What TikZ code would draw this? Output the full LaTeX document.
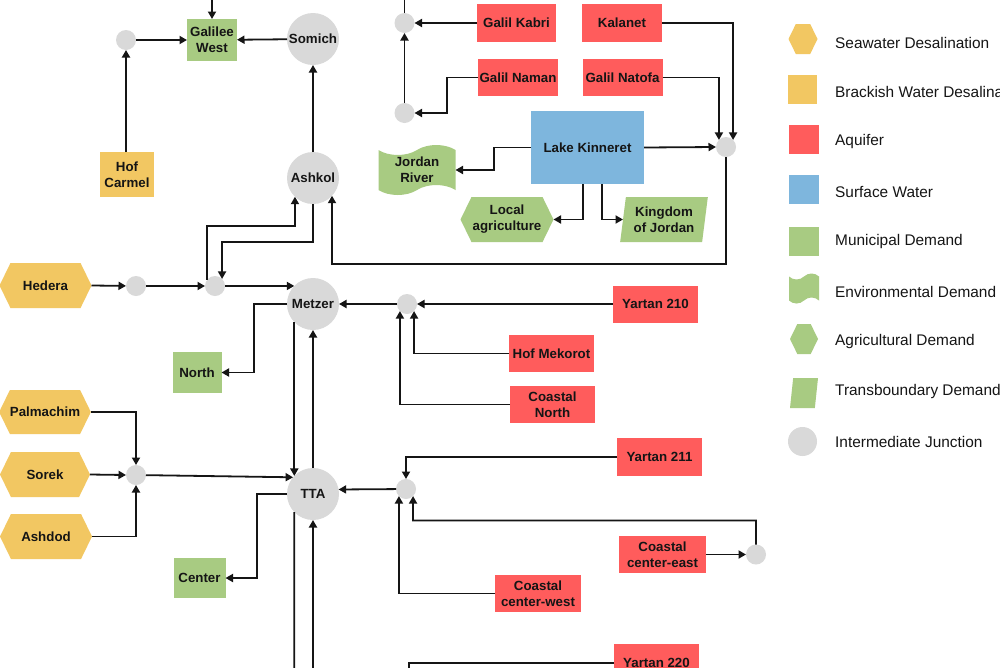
\documentclass[tikz,border=0pt]{standalone}
\usepackage{fontspec}
\setmainfont{Liberation Sans}
\usetikzlibrary{arrows.meta,shapes.geometric,shapes.symbols,calc}
\definecolor{yel}{HTML}{F2C762}
\definecolor{redc}{HTML}{FF5C5C}
\definecolor{bluec}{HTML}{7EB6DD}
\definecolor{greenc}{HTML}{A8CB82}
\definecolor{grayc}{HTML}{D9D9D9}
\definecolor{inkc}{HTML}{151515}
\tikzset{
 lbl/.style={font=\fontsize{13.3}{16}\selectfont\bfseries, align=center, inner sep=0pt, outer sep=0pt, text=inkc},
 sz/.style 2 args={minimum width=#1pt, minimum height=#2pt},
 sea/.style={lbl, signal, signal to=east and west, signal pointer angle=128, fill=yel},
 brack/.style={lbl, rectangle, fill=yel},
 aqu/.style={lbl, rectangle, fill=redc},
 surf/.style={lbl, rectangle, fill=bluec},
 muni/.style={lbl, rectangle, fill=greenc},
 env/.style={lbl, tape, tape bend height=10pt, fill=greenc},
 agri/.style={lbl, signal, signal to=east and west, signal pointer angle=128, fill=greenc},
 trans/.style={lbl, trapezium, trapezium left angle=80, trapezium right angle=100, trapezium stretches=true, fill=greenc},
 junc/.style={lbl, circle, fill=grayc},
 arr/.style={line width=1.8pt, draw=inkc, -{Triangle[length=7.5pt,width=8pt]}},
 ln/.style={line width=1.8pt, draw=inkc},
 legtxt/.style={anchor=west, inner sep=0pt, font=\fontsize{15.4}{18}\selectfont, text=inkc}
}
\begin{document}
\begin{tikzpicture}[x=1pt,y=-1pt]
\fill[white] (0,0) rectangle (1000,667);
\useasboundingbox (0,0) rectangle (1000,667);

% ---------- nodes ----------
\node[muni, sz={50}{42}] (galw) at (212,40) {Galilee\\West};
\node[junc, minimum size=52pt] (somich) at (313,39) {Somich};
\node[junc, minimum size=20pt] (jA) at (126,40) {};
\node[brack, sz={54}{45}] (hofc) at (127,174.5) {Hof\\Carmel};
\node[junc, minimum size=52pt] (ashkol) at (313,178) {Ashkol};

\node[junc, minimum size=20pt] (jG1) at (404.5,23) {};
\node[junc, minimum size=20pt] (jG2) at (404.5,113) {};
\node[aqu, sz={79}{38}] (galk) at (516.5,23) {Galil Kabri};
\node[aqu, sz={80}{38}] (kal) at (622,23) {Kalanet};
\node[aqu, sz={80}{37}] (galn) at (518,77.5) {Galil Naman};
\node[aqu, sz={80}{37}] (galnat) at (622.5,77.5) {Galil Natofa};
\node[surf, sz={113}{73}] (kin) at (587.5,147.5) {Lake Kinneret};
\node[junc, minimum size=20pt] (jK) at (726,147) {};
\node[env, sz={77}{50}] (jordan) at (417,170) {Jordan\\River};
\node[agri, sz={93}{45}] (localag) at (507,219.5) {Local\\agriculture};
\node[trans, sz={88}{45}] (kingdom) at (664,219.5) {Kingdom\\of Jordan};

\node[sea, sz={92}{45}] (hedera) at (45.5,285.5) {Hedera};
\node[junc, minimum size=20pt] (jH1) at (136,286) {};
\node[junc, minimum size=20pt] (jH2) at (215,286) {};
\node[junc, minimum size=52pt] (metzer) at (313,304) {Metzer};
\node[muni, sz={49}{41}] (north) at (197,372.5) {North};
\node[junc, minimum size=20pt] (jM) at (407,304) {};
\node[aqu, sz={85}{37}] (y210) at (655.5,304) {Yartan 210};
\node[aqu, sz={85}{37}] (hofm) at (551.5,353.5) {Hof Mekorot};
\node[aqu, sz={85}{37}] (coastn) at (552.5,404.5) {Coastal\\North};

\node[sea, sz={90}{44}] (palm) at (45,412) {Palmachim};
\node[sea, sz={90}{45}] (sorek) at (45,474.5) {Sorek};
\node[sea, sz={92}{45}] (ashdod) at (46,536.5) {Ashdod};
\node[junc, minimum size=20pt] (jS) at (136,475) {};
\node[junc, minimum size=52pt] (tta) at (313,494) {TTA};
\node[junc, minimum size=20pt] (jT) at (406,489) {};
\node[aqu, sz={85}{38}] (y211) at (659.5,457) {Yartan 211};
\node[aqu, sz={87}{37}] (cce) at (662.5,554.5) {Coastal\\center-east};
\node[junc, minimum size=20pt] (jCE) at (756,554.5) {};
\node[aqu, sz={86}{37}] (ccw) at (538,593.5) {Coastal\\center-west};
\node[muni, sz={52}{40}] (center) at (199.5,578) {Center};
\node[aqu, sz={85}{38}] (y220) at (656.5,663) {Yartan 220};

\coordinate (topG) at (212,-5);
\coordinate (topJ) at (404.5,-5);
\coordinate (botA) at (294.3,672);
\coordinate (botB) at (313,672);
\coordinate (botY) at (409,672);

% ---------- connectors ----------
\draw[arr] (topG) -- (galw.north);
\draw[arr] (jA) -- (galw);
\draw[arr] (somich) -- (galw);
\draw[arr] (hofc.north -| jA) -- (jA);
\draw[arr] (ashkol) -- (somich);
\draw[arr] (jH2.143) |- (295,226) -- (ashkol.226);
\draw[arr] (ashkol.south) |- (222,242) -- (jH2.45);
\draw[arr] (jK.south) |- (332,264) -- (ashkol.317);

\draw[ln] (jG1.north) -- (topJ);
\draw[arr] (galk.west) -- (jG1.east);
\draw[arr] (galn.west) -- (447,77.5) |- (jG2.east);
\draw[arr] (jG2) -- (jG1);
\draw[arr] (kal.east) -| (jK.45);
\draw[arr] (galnat.east) -| (jK.135);
\draw[arr] (kin.east) -- (jK.west);
\draw[arr] (kin.west) -- (494,147.5) |- (jordan.east);
\draw[arr] ([xshift=-4.5pt]kin.south) |- (localag.east);
\draw[arr] ([xshift=14.5pt]kin.south) |- (kingdom.west);

\draw[arr] (hedera.east) -- (jH1);
\draw[arr] (jH1) -- (jH2);
\draw[arr] (jH2) -- (metzer.136);
\draw[arr] (metzer.west) -- (254,304) |- (north.east);
\draw[arr] (metzer.224) -- (tta.136);
\draw[arr] (tta.north) -- (metzer.south);
\draw[arr] (y210.west) -- (jM.east);
\draw[arr] (jM) -- (metzer);
\draw[arr] (hofm.west) -| (jM.315);
\draw[arr] (coastn.west) -| (jM.225);

\draw[arr] (palm.east) -| (jS.north);
\draw[arr] (sorek.east) -- (jS.west);
\draw[arr] (ashdod.east) -| (jS.south);
\draw[arr] (jS) -- (tta.140);
\draw[ln] (tta.224) -- (botA);
\draw[arr] (botB) -- (tta.south);
\draw[arr] (tta.west) -- (257,494) |- (center.east);
\draw[arr] (jT) -- (tta.10);
\draw[arr] (y211.west) -| (jT.north);
\draw[arr] (jCE.north) |- (413,520.5) -- (jT.315);
\draw[arr] (ccw.west) -| (jT.225);
\draw[arr] (cce.east) -- (jCE.west);
\draw[ln] (y220.west) -| (botY);

% ---------- legend ----------
\node[sea, sz={29}{30}] (lg1) at (803,39) {};
\node[brack, sz={29}{29}] (lg2) at (802.5,89.5) {};
\node[aqu, sz={30}{29}] (lg3) at (804,139.5) {};
\node[surf, sz={30}{29}] (lg4) at (804,189.5) {};
\node[muni, sz={30}{29}] (lg5) at (804,241.5) {};
\node[env, sz={30}{30}, tape bend height=6pt] (lg6) at (804,288.5) {};
\node[agri, sz={28}{30}] (lg7) at (804,339) {};
\node[trans, sz={28}{30}] (lg8) at (804,393) {\phantom{M}};
\node[junc, minimum size=29pt] (lg9) at (802.5,441.5) {};
\node[legtxt] (lt1) at (835,43) {Seawater Desalination};
\node[legtxt] (lt2) at (835,92) {Brackish Water Desalination};
\node[legtxt] (lt3) at (835,142) {Aquifer};
\node[legtxt] (lt4) at (835,192) {Surface Water};
\node[legtxt] (lt5) at (835,242) {Municipal Demand};
\node[legtxt] (lt6) at (835,292) {Environmental Demand};
\node[legtxt] (lt7) at (835,342) {Agricultural Demand};
\node[legtxt] (lt8) at (835,392) {Transboundary Demand};
\node[legtxt] (lt9) at (835,442) {Intermediate Junction};
\end{tikzpicture}
\end{document}
